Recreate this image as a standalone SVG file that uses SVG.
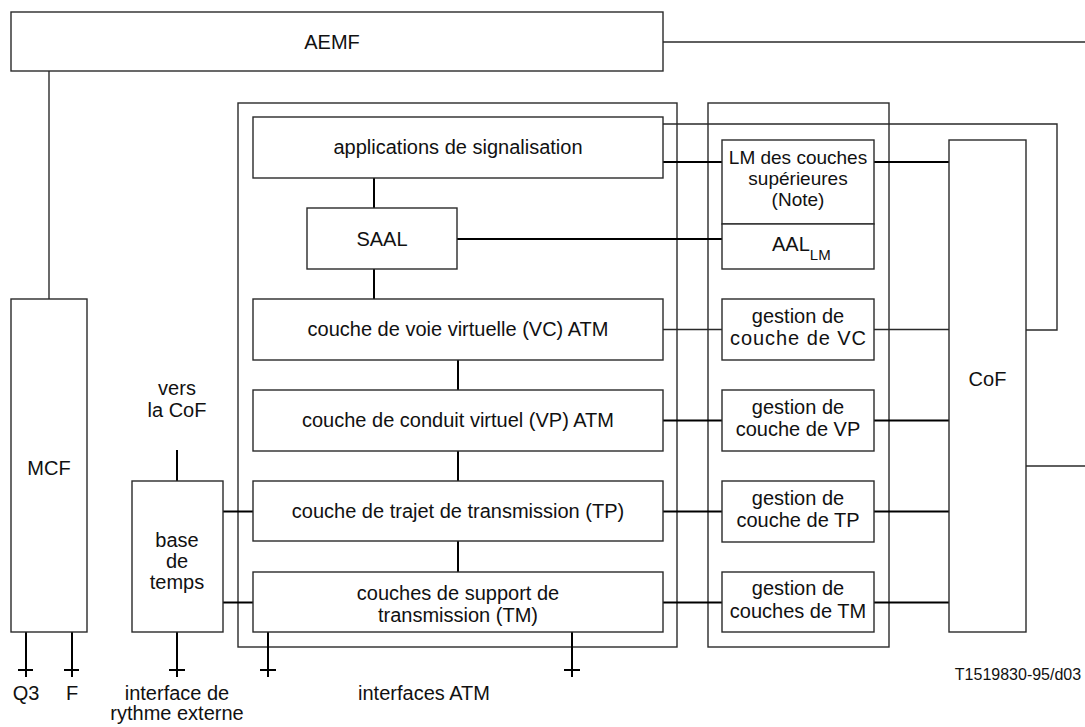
<svg xmlns="http://www.w3.org/2000/svg" width="1085" height="727" viewBox="0 0 1085 727">
  <style>
    .box { fill: #ffffff; stroke: #2a2a2a; stroke-width: 1.4; }
    .frame { fill: none; stroke: #2a2a2a; stroke-width: 1.4; }
    .thin { fill: none; stroke: #2a2a2a; stroke-width: 1.4; }
    .heavy { fill: none; stroke: #000000; stroke-width: 2; }
    text { font-family: "Liberation Sans", Arial, sans-serif; font-size: 20px; fill: #111111; text-anchor: middle; }
    .ref { font-size: 16px; }
    .sub { font-size: 15px; }
    .small { font-size: 19px; }
  </style>

  <!-- outer frames -->
  <g id="atm-frame"><rect class="frame" x="238" y="103" width="439" height="544"/></g>
  <g id="lm-frame"><rect class="frame" x="708" y="103" width="181" height="544"/></g>

  <!-- connectors -->
  <g id="connectors">
    <path class="thin" d="M663,42 H1085"/>
    <path class="thin" d="M49,71 V299"/>
    <path class="thin" d="M663,124 H1057 V330 H1026"/>
    <path class="heavy" d="M663,162 H722"/>
    <path class="heavy" d="M874,162 H949"/>
    <path class="heavy" d="M457,239 H722"/>
    <path class="heavy" d="M374,178 V208"/>
    <path class="heavy" d="M374,269 V299"/>
    <path class="heavy" d="M458,360 V390"/>
    <path class="heavy" d="M458,451 V481"/>
    <path class="heavy" d="M458,541 V572"/>
    <path class="thin" d="M663,329.5 H722"/>
    <path class="thin" d="M874,329.5 H949"/>
    <path class="heavy" d="M663,420.5 H722"/>
    <path class="heavy" d="M874,420.5 H949"/>
    <path class="heavy" d="M663,511.5 H722"/>
    <path class="heavy" d="M874,511.5 H949"/>
    <path class="heavy" d="M663,602.5 H722"/>
    <path class="heavy" d="M874,602.5 H949"/>
    <path class="thin" d="M1026,466 H1085"/>
    <path class="heavy" d="M223,511.5 H253"/>
    <path class="heavy" d="M223,602.5 H253"/>
    <path class="heavy" d="M177,450 V481"/>
    <!-- interface leads with terminal ticks -->
    <path class="heavy" d="M26,632 V677 M18,670 H33"/>
    <path class="heavy" d="M72,632 V677 M64,670 H79"/>
    <path class="heavy" d="M177,632 V677 M169,670 H185"/>
    <path class="heavy" d="M268,632 V677 M260,670 H276"/>
    <path class="heavy" d="M572,632 V677 M564,670 H580"/>
  </g>

  <g id="aemf">
    <rect class="box" x="11" y="12" width="652" height="59"/>
    <text x="332" y="49">AEMF</text>
  </g>

  <g id="mcf">
    <rect class="box" x="11" y="299" width="76" height="333"/>
    <text x="49" y="475">MCF</text>
  </g>

  <g id="base-temps">
    <rect class="box" x="132" y="481" width="91" height="151"/>
    <text x="177" y="547">base</text>
    <text x="177" y="568">de</text>
    <text x="177" y="588.5">temps</text>
  </g>

  <g id="applications">
    <rect class="box" x="253" y="117" width="410" height="61"/>
    <text x="458" y="154">applications de signalisation</text>
  </g>

  <g id="saal">
    <rect class="box" x="307" y="208" width="150" height="61"/>
    <text x="382" y="245.5">SAAL</text>
  </g>

  <g id="vc-layer">
    <rect class="box" x="253" y="299" width="410" height="61"/>
    <text x="458" y="336">couche de voie virtuelle (VC) ATM</text>
  </g>

  <g id="vp-layer">
    <rect class="box" x="253" y="390" width="410" height="61"/>
    <text x="458" y="427">couche de conduit virtuel (VP) ATM</text>
  </g>

  <g id="tp-layer">
    <rect class="box" x="253" y="481" width="410" height="60"/>
    <text x="458" y="518">couche de trajet de transmission (TP)</text>
  </g>

  <g id="tm-layer">
    <rect class="box" x="253" y="572" width="410" height="60"/>
    <text x="458" y="600">couches de support de</text>
    <text x="458" y="621.5">transmission (TM)</text>
  </g>

  <g id="lm-upper">
    <rect class="box" x="722" y="140" width="152" height="84"/>
    <text class="small" x="798" y="164">LM des couches</text>
    <text class="small" x="798" y="185">supérieures</text>
    <text class="small" x="798" y="205.5">(Note)</text>
  </g>

  <g id="aal-lm">
    <rect class="box" x="722" y="224" width="152" height="45"/>
    <text x="772" y="251" style="text-anchor:start">AAL<tspan class="sub" dy="9">LM</tspan></text>
  </g>

  <g id="vc-mgmt">
    <rect class="box" x="722" y="299" width="152" height="61"/>
    <text x="798" y="322.5">gestion de</text>
    <text x="798" y="345" textLength="136" lengthAdjust="spacing">couche de VC</text>
  </g>

  <g id="vp-mgmt">
    <rect class="box" x="722" y="390" width="152" height="61"/>
    <text x="798" y="413.5">gestion de</text>
    <text x="798" y="436">couche de VP</text>
  </g>

  <g id="tp-mgmt">
    <rect class="box" x="722" y="481" width="152" height="61"/>
    <text x="798" y="504.5">gestion de</text>
    <text x="798" y="527">couche de TP</text>
  </g>

  <g id="tm-mgmt">
    <rect class="box" x="722" y="572" width="152" height="60"/>
    <text x="798" y="595">gestion de</text>
    <text x="798" y="617.5">couches de TM</text>
  </g>

  <g id="cof">
    <rect class="box" x="949" y="140" width="77" height="492"/>
    <text x="987.5" y="386">CoF</text>
  </g>

  <!-- free labels -->
  <g id="labels">
    <text x="177" y="395">vers</text>
    <text x="177" y="416.5">la CoF</text>
    <text x="26" y="700">Q3</text>
    <text x="72" y="700">F</text>
    <text x="177" y="699.5">interface de</text>
    <text x="177" y="720">rythme externe</text>
    <text x="424" y="700">interfaces ATM</text>
    <text class="ref" x="1018" y="680">T1519830-95/d03</text>
  </g>
</svg>
